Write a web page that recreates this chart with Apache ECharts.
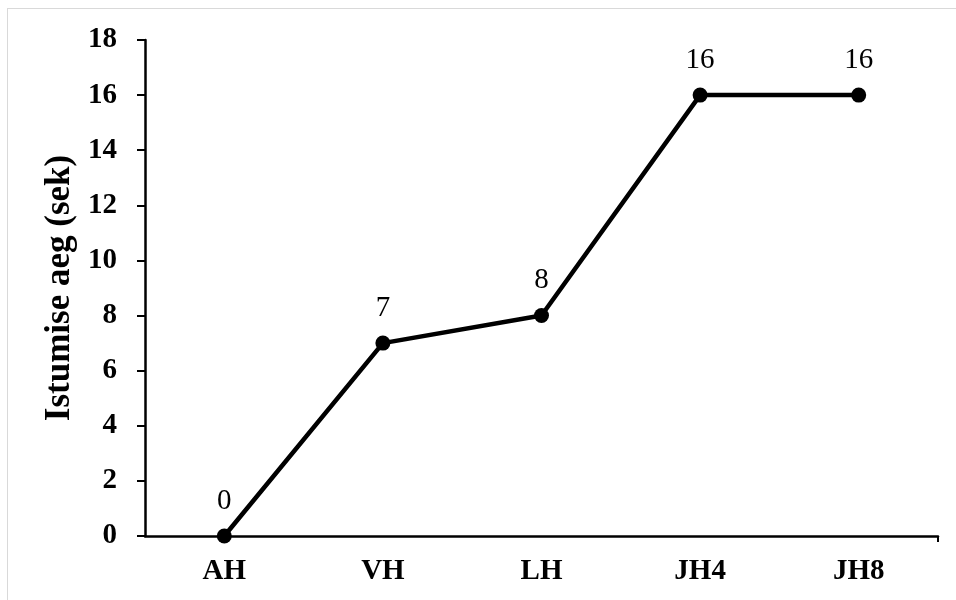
<!DOCTYPE html>
<html>
<head>
<meta charset="utf-8">
<script src="https://cdn.jsdelivr.net/npm/echarts@6/dist/echarts.min.js"></script>
<style>
html,body{margin:0;padding:0;background:#fff;}
#frame{position:absolute;left:7px;top:8px;width:960px;height:600px;border-left:1px solid #d9d9d9;border-top:1px solid #d9d9d9;}
#chart{position:absolute;left:0;top:0;width:956px;height:600px;}
</style>
</head>
<body>
<div id="frame"></div>
<div id="chart"></div>
<script>
const categories = ['AH', 'VH', 'LH', 'JH4', 'JH8'];
const values = [0, 7, 8, 16, 16];
const yTicks = { min: 0, max: 18, interval: 2 };
const yName = 'Istumise aeg (sek)';

const font = '"Liberation Serif", "Times New Roman", serif';
const chart = echarts.init(document.getElementById('chart'));
chart.setOption({
  animation: false,
  grid: { left: 145, right: 18, top: 40, bottom: 64 },
  xAxis: [{
    type: 'category',
    data: categories,
    boundaryGap: true,
    axisLine: { lineStyle: { color: '#000', width: 2.5 } },
    axisTick: { alignWithLabel: true, length: 6, lineStyle: { color: '#000', width: 2 } },
    axisLabel: { color: '#000', fontFamily: font, fontWeight: 'bold', fontSize: 29, margin: 21 },
    splitLine: { show: false }
  }, {
    type: 'value',
    position: 'bottom',
    min: 0, max: 1,
    axisLine: { show: false },
    axisLabel: { show: false },
    splitLine: { show: false },
    axisTick: { show: true, customValues: [1], length: 6, lineStyle: { color: '#000', width: 2 } }
  }],
  yAxis: {
    type: 'value',
    min: yTicks.min, max: yTicks.max, interval: yTicks.interval,
    name: yName,
    nameLocation: 'middle',
    nameGap: 67,
    nameTextStyle: { color: '#000', fontFamily: font, fontWeight: 'bold', fontSize: 35 },
    axisLine: { show: true, lineStyle: { color: '#000', width: 2.5 } },
    axisTick: { show: true, length: 8, lineStyle: { color: '#000', width: 2 } },
    axisLabel: { color: '#000', fontFamily: font, fontWeight: 'bold', fontSize: 29, margin: 28 },
    splitLine: { show: false }
  },
  series: [{
    type: 'line',
    data: values,
    xAxisIndex: 0,
    symbol: 'circle',
    symbolSize: 15,
    itemStyle: { color: '#000' },
    lineStyle: { color: '#000', width: 4.5 },
    label: { show: true, position: 'top', distance: 13, color: '#000', fontFamily: font, fontSize: 29 }
  }]
});
</script>
</body>
</html>
